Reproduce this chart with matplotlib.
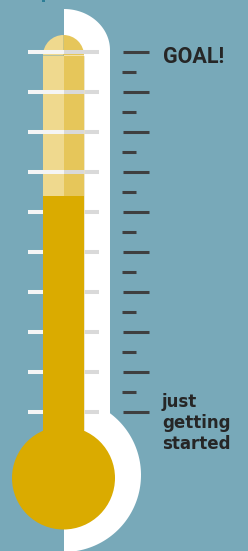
import numpy as np
import matplotlib.pyplot as plt
from matplotlib.patches import Polygon, Rectangle, Wedge, Circle
from matplotlib.transforms import Affine2D

# scale of the thermometer (percent of goal reached)
major_ticks = [0, 10, 20, 30, 40, 50, 60, 70, 80, 90]
minor_ticks = [5, 15, 25, 35, 45, 55, 65, 75, 85]
goal = 90
raised = 54
top_label = 'GOAL!'
bottom_label = 'just\ngetting\nstarted'

W, H = 248, 551
BG = '#78a9b9'
GOLD = '#daab00'
DARK = '#3f3f3f'
TEXT = '#262626'

fig = plt.figure(figsize=(W / 100, H / 100), dpi=100)
fig.patch.set_facecolor(BG)
ax = fig.add_axes([0, 0, 1, 1])
ax.set_facecolor(BG)
ax.set_xlim(0, W)
# 4 px per percent, 0 sits at the lowest tick
ax.set_ylim(-34.75, 103)
ax.axis('off')

# pixel coordinates (origin top-left) for drawing the glass
px = Affine2D().scale(1 / W, -1 / H).translate(0, 1) + fig.transFigure

# small cut-off mark at the very top
ax.add_patch(Rectangle((41.5, 0), 3, 2, facecolor='#2d7e96', edgecolor='none',
                       transform=px, zorder=1))

# white outline: right half of the glass
t = np.linspace(0, np.pi / 2, 40)
top_arc = np.column_stack([64 + 46 * np.sin(t), 50 - 41 * np.cos(t)])
ang = np.linspace(-np.arccos(46 / 77), np.pi / 2, 80)
bulb_arc = np.column_stack([64 + 77 * np.cos(ang), 475 + 77 * np.sin(ang)])
outline = np.vstack([[[64, 560], [64, 9]], top_arc, bulb_arc, [[64, 560]]])
ax.add_patch(Polygon(outline, closed=True, facecolor='white', edgecolor='none',
                     transform=px, zorder=1))

# empty part of the tube
for x0, th0, col in [(43, 180, '#efd98e'), (63.5, 270, '#e6c65a')]:
    ax.add_patch(Rectangle((x0, 55.5), 20.5, 430, facecolor=col, edgecolor='none',
                           transform=px, zorder=2))
    ax.add_patch(Wedge((63.5, 55.5), 20.5, th0, th0 + 90, facecolor=col,
                       edgecolor='none', transform=px, zorder=2))

# bars across the tube
ax.hlines(major_ticks, 28, 64, color='#f5f5f5', lw=2.9, zorder=3)
ax.hlines(major_ticks, 64, 99, color='#d9d9d9', lw=2.9, zorder=3)

# mercury
bulb_v = -16.5
ax.bar(63.5, raised - bulb_v, bottom=bulb_v, width=41, color=GOLD, zorder=4)
ax.add_patch(Circle((63.5, 478), 51.5, facecolor=GOLD, edgecolor='none',
                    transform=px, zorder=4))
# faint edge of the glass tube
ax.plot([84.3, 84.3], [55.5, 430], color='#ebe3c4', lw=0.6, transform=px, zorder=5)

# scale on the right
ax.hlines(major_ticks, 123, 149, color=DARK, lw=2.2, zorder=3)
ax.hlines(minor_ticks, 122, 136, color=DARK, lw=2.2, zorder=3)

ax.annotate(top_label, (163, goal), xytext=(0, -11), textcoords='offset pixels',
            va='baseline', ha='left', fontsize=15.5, fontweight='bold',
            family=['Roboto', 'DejaVu Sans'], color=TEXT)
# baseline of the last line sits below the lowest tick
ax.annotate(bottom_label, (162, major_ticks[0]), xytext=(0, -37), textcoords='offset pixels',
            va='baseline', ha='left', fontsize=12, fontweight='bold',
            family='DejaVu Sans', color=TEXT, linespacing=1.22)

fig.savefig('out.png', dpi=100, facecolor=BG)
